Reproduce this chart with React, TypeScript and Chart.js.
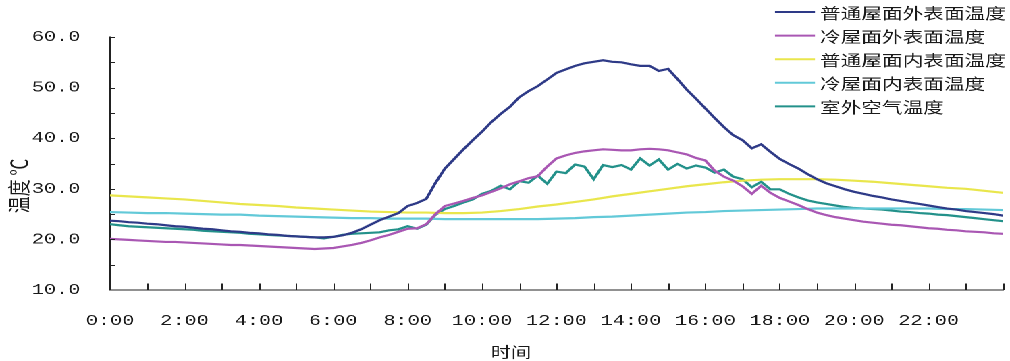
import React, { useEffect, useRef } from "react";
import { Chart, registerables } from "chart.js";

Chart.register(...registerables);

const BASE_W = 748;
const BASE_H = 361;
const STRETCH = 1010 / BASE_W;

const SERIES_NAMES = [
  "普通屋面外表面温度",
  "冷屋面外表面温度",
  "普通屋面内表面温度",
  "冷屋面内表面温度",
  "室外空气温度",
];
const SERIES_COLORS = ["#2E3A87", "#A957B3", "#E9E64C", "#62C9D8", "#23918A"];

const X_TITLE = "时间";
const Y_TITLE = "温度 ℃";

// time in hours: every 15 minutes and every 30 minutes
const QUARTER_HOURS = Array.from({ length: 97 }, (_, i) => i / 4);
const HALF_HOURS = Array.from({ length: 49 }, (_, i) => i / 2);

const normalOuter = [
  23.7, 23.6, 23.4, 23.3, 23.1, 23.0, 22.8, 22.6, 22.5, 22.3, 22.1, 22.0,
  21.8, 21.6, 21.5, 21.3, 21.2, 21.0, 20.9, 20.7, 20.6, 20.5, 20.4, 20.4,
  20.5, 20.8, 21.3, 22.0, 22.9, 23.8, 24.5, 25.2, 26.6, 27.2, 28.0, 31.2,
  34.0, 35.9, 37.8, 39.6, 41.3, 43.2, 44.8, 46.2, 48.1, 49.3, 50.3, 51.6,
  52.9, 53.6, 54.3, 54.8, 55.1, 55.4, 55.1, 55.0, 54.6, 54.3, 54.3, 53.3,
  53.7, 51.7, 49.6, 47.8, 45.9, 44.0, 42.2, 40.6, 39.6, 38.0, 38.8, 37.3,
  35.9, 34.9, 34.0, 32.9, 31.9, 31.1, 30.5, 29.9, 29.4, 29.0, 28.6, 28.3,
  27.9, 27.6, 27.3, 27.0, 26.7, 26.4, 26.1, 25.9, 25.6, 25.4, 25.2, 25.0,
  24.7,
];

const coolOuter = [
  20.1, 20.0, 19.9, 19.8, 19.7, 19.6, 19.5, 19.5, 19.4, 19.3, 19.2, 19.1,
  19.0, 18.9, 18.9, 18.8, 18.7, 18.6, 18.5, 18.4, 18.3, 18.2, 18.1, 18.2,
  18.3, 18.6, 18.9, 19.3, 19.8, 20.4, 20.9, 21.5, 22.1, 22.2, 23.0, 25.0,
  26.6, 27.1, 27.6, 28.2, 28.7, 29.4, 30.1, 30.9, 31.5, 32.1, 32.5, 34.4,
  36.0, 36.6, 37.1, 37.4, 37.6, 37.8, 37.7, 37.6, 37.6, 37.8, 37.9, 37.8,
  37.6, 37.2, 36.8, 36.1, 35.6, 33.6, 32.4, 31.6, 30.5, 29.0, 30.6, 29.2,
  28.2, 27.5, 26.8, 26.0, 25.3, 24.8, 24.4, 24.1, 23.8, 23.5, 23.3, 23.1,
  22.9, 22.8, 22.6, 22.4, 22.2, 22.1, 21.9, 21.8, 21.6, 21.5, 21.4, 21.2,
  21.1,
];

const normalInner = [
  28.7, 28.5, 28.3, 28.1, 27.9, 27.6, 27.3, 27.0, 26.8, 26.6, 26.3, 26.1,
  25.9, 25.7, 25.5, 25.4, 25.3, 25.3, 25.2, 25.2, 25.3, 25.6, 26.0, 26.5,
  26.9, 27.4, 27.9, 28.5, 29.0, 29.5, 30.0, 30.5, 30.9, 31.3, 31.6, 31.8,
  31.9, 31.9, 31.9, 31.8, 31.6, 31.4, 31.1, 30.8, 30.5, 30.2, 30.0, 29.6,
  29.2,
];

const coolInner = [
  25.4, 25.3, 25.2, 25.2, 25.1, 25.0, 24.9, 24.9, 24.7, 24.6, 24.5, 24.4,
  24.3, 24.2, 24.2, 24.1, 24.1, 24.1, 24.0, 24.0, 24.0, 24.0, 24.0, 24.0,
  24.1, 24.2, 24.4, 24.5, 24.7, 24.9, 25.1, 25.3, 25.4, 25.6, 25.7, 25.8,
  25.9, 26.0, 26.1, 26.1, 26.1, 26.1, 26.1, 26.1, 26.1, 26.0, 26.0, 25.9,
  25.8,
];

const outdoorAir = [
  23.0, 22.8, 22.6, 22.5, 22.4, 22.3, 22.2, 22.1, 22.0, 21.9, 21.7, 21.6,
  21.5, 21.4, 21.3, 21.1, 21.0, 20.9, 20.8, 20.7, 20.6, 20.5, 20.4, 20.2,
  20.5, 20.9, 21.1, 21.2, 21.3, 21.4, 21.8, 22.0, 22.6, 22.1, 22.9, 24.9,
  26.0, 26.6, 27.3, 27.9, 29.0, 29.6, 30.6, 29.9, 31.5, 31.2, 32.6, 31.0,
  33.4, 33.1, 34.8, 34.4, 31.9, 34.7, 34.3, 34.7, 33.8, 36.0, 34.6, 35.8,
  33.8, 34.9, 34.0, 34.6, 34.2, 33.2, 33.8, 32.4, 31.9, 30.3, 31.4, 29.9,
  29.9, 29.0, 28.3, 27.7, 27.3, 27.0, 26.7, 26.4, 26.2, 26.1, 26.0, 25.9,
  25.7, 25.5, 25.4, 25.2, 25.1, 24.9, 24.8, 24.6, 24.4, 24.2, 24.0, 23.8,
  23.6,
];

const SERIES_X = [QUARTER_HOURS, QUARTER_HOURS, HALF_HOURS, HALF_HOURS, QUARTER_HOURS];
const SERIES_Y = [normalOuter, coolOuter, normalInner, coolInner, outdoorAir];

const CJK_FONT = "'Noto Sans CJK SC', 'Noto Sans', sans-serif";
const NUM_FONT = "'Liberation Mono', 'DejaVu Sans Mono', monospace";
const TEXT_COLOR = "#1a1a1a";

const decorPlugin = {
  id: "decor",
  afterDraw(chart: any) {
    const { ctx, chartArea, scales } = chart;
    const xs = scales.x;
    const ys = scales.y;
    ctx.save();
    // inward tick marks
    ctx.strokeStyle = "#222";
    ctx.lineWidth = 1;
    ctx.beginPath();
    xs.ticks.forEach((t: any) => {
      if (t.value === xs.min) return;
      const px = Math.round(xs.getPixelForValue(t.value)) + 0.5;
      ctx.moveTo(px, chartArea.bottom);
      ctx.lineTo(px, chartArea.bottom - 6.5);
    });
    ys.ticks.forEach((t: any) => {
      if (t.value === ys.min) return;
      const py = Math.round(ys.getPixelForValue(t.value)) + 0.5;
      ctx.moveTo(chartArea.left, py);
      ctx.lineTo(chartArea.left + 5 / STRETCH, py);
    });
    ctx.stroke();

    // legend
    const lx0 = 775 / STRETCH;
    const lx1 = 815 / STRETCH;
    const tx = 820 / STRETCH;
    ctx.font = `15.3px ${CJK_FONT}`;
    ctx.textBaseline = "middle";
    ctx.textAlign = "left";
    chart.data.datasets.forEach((ds: any, i: number) => {
      const y = 12 + i * 23.6;
      ctx.strokeStyle = ds.borderColor;
      ctx.lineWidth = 2;
      ctx.beginPath();
      ctx.moveTo(lx0, y);
      ctx.lineTo(lx1, y);
      ctx.stroke();
      ctx.fillStyle = TEXT_COLOR;
      ctx.fillText(ds.label, tx, y + 1);
    });

    // axis titles
    ctx.fillStyle = TEXT_COLOR;
    ctx.font = `15px ${CJK_FONT}`;
    ctx.textAlign = "center";
    ctx.textBaseline = "middle";
    ctx.fillText(X_TITLE, 511 / STRETCH, 352);
    ctx.save();
    ctx.font = `17px ${CJK_FONT}`;
    ctx.translate(19 / STRETCH, 186);
    ctx.rotate(-Math.PI / 2);
    ctx.fillText(Y_TITLE, 0, 0);
    ctx.restore();
    ctx.restore();
  },
};

export default function App() {
  const canvasRef = useRef<HTMLCanvasElement | null>(null);

  useEffect(() => {
    if (!canvasRef.current) return;
    const datasets = SERIES_NAMES.map((name, i) => ({
      label: name,
      data: SERIES_X[i].map((x, j) => ({ x, y: SERIES_Y[i][j] })),
      borderColor: SERIES_COLORS[i],
      backgroundColor: SERIES_COLORS[i],
      borderWidth: 2.2,
      pointRadius: 0,
      tension: 0,
      fill: false,
    }));
    const chart = new Chart(canvasRef.current, {
      type: "line",
      data: { datasets },
      plugins: [decorPlugin],
      options: {
        animation: false,
        responsive: false,
        devicePixelRatio: 2,
        layout: { padding: { top: 37, right: BASE_W - 1003 / STRETCH, bottom: 0, left: 0 } },
        plugins: { legend: { display: false }, tooltip: { enabled: false } },
        scales: {
          x: {
            type: "linear",
            min: 0,
            max: 24,
            afterFit: (s: any) => {
              s.height = BASE_H - 290;
              s.paddingLeft = 0;
              s.paddingRight = 0;
            },
            ticks: {
              stepSize: 1,
              autoSkip: false,
              maxRotation: 0,
              padding: 22,
              color: TEXT_COLOR,
              font: { family: NUM_FONT, size: 15 },
              callback: (v: any) => (Number(v) % 2 === 0 && Number(v) < 24 ? `${v}:00` : ""),
            },
            grid: { display: true, drawOnChartArea: false, drawTicks: false },
            border: { display: true, color: "#222", width: 1 },
          },
          y: {
            type: "linear",
            min: 10,
            max: 60,
            afterFit: (s: any) => {
              s.width = 110 / STRETCH;
            },
            ticks: {
              stepSize: 5,
              padding: 22,
              color: TEXT_COLOR,
              font: { family: NUM_FONT, size: 15 },
              callback: (v: any) => (Number(v) % 10 === 0 ? Number(v).toFixed(1) : ""),
            },
            grid: { display: true, drawOnChartArea: false, drawTicks: false },
            border: { display: true, color: "#222", width: 1 },
          },
        },
      },
    });
    return () => chart.destroy();
  }, []);

  return (
    <div
      style={{
        position: "fixed",
        left: 0,
        top: 0,
        width: BASE_W,
        height: BASE_H,
        transform: `scaleX(${STRETCH})`,
        transformOrigin: "0 0",
        background: "#fff",
      }}
    >
      <canvas ref={canvasRef} width={BASE_W} height={BASE_H} />
    </div>
  );
}
